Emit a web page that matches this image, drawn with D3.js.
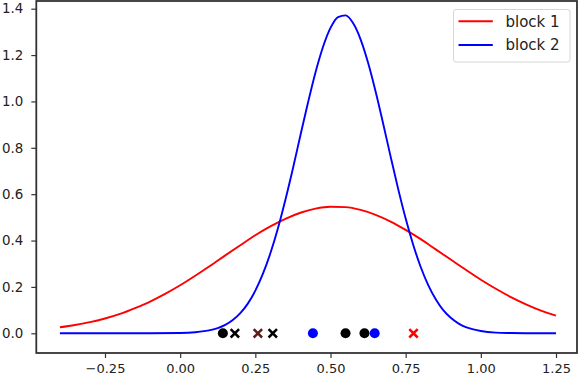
<!DOCTYPE html>
<html><head><meta charset="utf-8">
<script src="https://cdn.jsdelivr.net/npm/d3@7"></script>
<style>
html,body{margin:0;padding:0;background:#fff;}
svg{display:block;font-family:"DejaVu Sans",sans-serif;}
</style></head>
<body>
<svg id="chart" width="580" height="376"></svg>
<script>
// ---- data ----
const redX = [-0.40,-0.35,-0.30,-0.25,-0.20,-0.15,-0.10,-0.05,0.00,0.05,0.10,0.15,0.20,0.25,0.30,0.35,0.40,0.45,0.50,0.55,0.60,0.65,0.70,0.75,0.80,0.85,0.90,0.95,1.00,1.05,1.10,1.15,1.20,1.25];
const redY = [0.026,0.036,0.048,0.064,0.084,0.109,0.137,0.170,0.207,0.248,0.291,0.336,0.380,0.423,0.461,0.494,0.520,0.538,0.546,0.544,0.532,0.511,0.482,0.446,0.406,0.362,0.318,0.274,0.231,0.192,0.156,0.125,0.098,0.076];
const blueX = [-0.40,-0.30,-0.20,-0.10,0.00,0.05,0.10,0.125,0.15,0.175,0.20,0.225,0.25,0.275,0.30,0.325,0.35,0.375,0.40,0.425,0.45,0.475,0.50,0.525,0.55,0.575,0.60,0.625,0.65,0.675,0.70,0.725,0.75,0.775,0.80,0.825,0.85,0.875,0.90,0.925,0.95,0.975,1.00,1.05,1.10,1.15,1.25];
const blueY = [0,0,0,0.0001,0.0013,0.0046,0.0137,0.0227,0.0366,0.0573,0.087,0.128,0.184,0.256,0.345,0.452,0.576,0.711,0.854,0.994,1.125,1.235,1.317,1.364,1.371,1.338,1.268,1.167,1.043,0.905,0.762,0.623,0.495,0.382,0.286,0.208,0.147,0.100,0.067,0.043,0.027,0.017,0.010,0.003,0.001,0.0002,0];
const markX = [0.142,0.182,0.2585,0.308,0.4415,0.550,0.613,0.647,0.776];
const markType = ["o","x","x","x","o","o","o","o","x"];
const markColor = ["#000000","#000000","#5a1e1e","#000000","#0000ff","#000000","#000000","#0000ff","#ff0000"];
const xTicks = [-0.25,0.00,0.25,0.50,0.75,1.00,1.25];
const xTickLabels = ["\u22120.25","0.00","0.25","0.50","0.75","1.00","1.25"];
const yTicks = [0.0,0.2,0.4,0.6,0.8,1.0,1.2,1.4];
const yTickLabels = ["0.0","0.2","0.4","0.6","0.8","1.0","1.2","1.4"];
const seriesNames = ["block 1","block 2"];
const seriesColors = ["#ff0000","#0000ff"];

// ---- layout ----
const L = 36.3, R = 577, T = 1, B = 353;
const x = d3.scaleLinear().domain([-0.25,1.25]).range([105,556]);
const y = d3.scaleLinear().domain([0,1.4]).range([333.3,8.7]);

const svg = d3.select("#chart");
const txt = "#222";

// curves
const line = d3.line().x(d=>x(d[0])).y(d=>y(d[1])).curve(d3.curveMonotoneX);
svg.append("path").datum(redX.map((v,i)=>[v,redY[i]]))
  .attr("d",line).attr("fill","none").attr("stroke",seriesColors[0]).attr("stroke-width",1.9);
svg.append("path").datum(blueX.map((v,i)=>[v,blueY[i]]))
  .attr("d",line).attr("fill","none").attr("stroke",seriesColors[1]).attr("stroke-width",1.9);

// markers
const mg = svg.append("g");
markX.forEach((mx,i)=>{
  const cx = x(mx), cy = y(0);
  if(markType[i]==="o"){
    mg.append("circle").attr("cx",cx).attr("cy",cy).attr("r",5).attr("fill",markColor[i]);
  } else {
    const s = 4.2;
    mg.append("path").attr("d",`M${cx-s},${cy-s}L${cx+s},${cy+s}M${cx-s},${cy+s}L${cx+s},${cy-s}`)
      .attr("stroke",markColor[i]).attr("stroke-width",2.5).attr("fill","none");
  }
});

// frame
svg.append("rect").attr("x",L).attr("y",T).attr("width",R-L).attr("height",B-T)
  .attr("fill","none").attr("stroke","#333").attr("stroke-width",1.8);

// x axis
const xa = svg.append("g").attr("transform",`translate(0,${B})`)
  .call(d3.axisBottom(x).tickValues(xTicks).tickFormat((d,i)=>xTickLabels[i]).tickSize(5).tickPadding(6));
xa.select(".domain").remove();
xa.selectAll("line").attr("stroke","#333").attr("stroke-width",1.2);
xa.selectAll("text").attr("fill",txt).attr("font-size",13).attr("font-family","DejaVu Sans");

// y axis
const ya = svg.append("g").attr("transform",`translate(${L},0)`)
  .call(d3.axisLeft(y).tickValues(yTicks).tickFormat((d,i)=>yTickLabels[i]).tickSize(5).tickPadding(8));
ya.select(".domain").remove();
ya.selectAll("line").attr("stroke","#333").attr("stroke-width",1.2);
ya.selectAll("text").attr("fill",txt).attr("font-size",13.4).attr("font-family","DejaVu Sans");

// legend
const lg = svg.append("g");
lg.append("rect").attr("x",453.5).attr("y",9.5).attr("width",116.5).attr("height",52.5).attr("rx",2.5)
  .attr("fill","rgba(255,255,255,0.8)").attr("stroke","#d6d6d6").attr("stroke-width",1);
seriesNames.forEach((n,i)=>{
  const ly = 21.3 + i*23.7;
  lg.append("line").attr("x1",458.5).attr("x2",492.8).attr("y1",ly).attr("y2",ly)
    .attr("stroke",seriesColors[i]).attr("stroke-width",1.9);
  lg.append("text").attr("x",505.5).attr("y",ly).attr("dy","0.36em").text(n)
    .attr("fill",txt).attr("font-size",15).attr("font-family","DejaVu Sans");
});
</script>
</body></html>
